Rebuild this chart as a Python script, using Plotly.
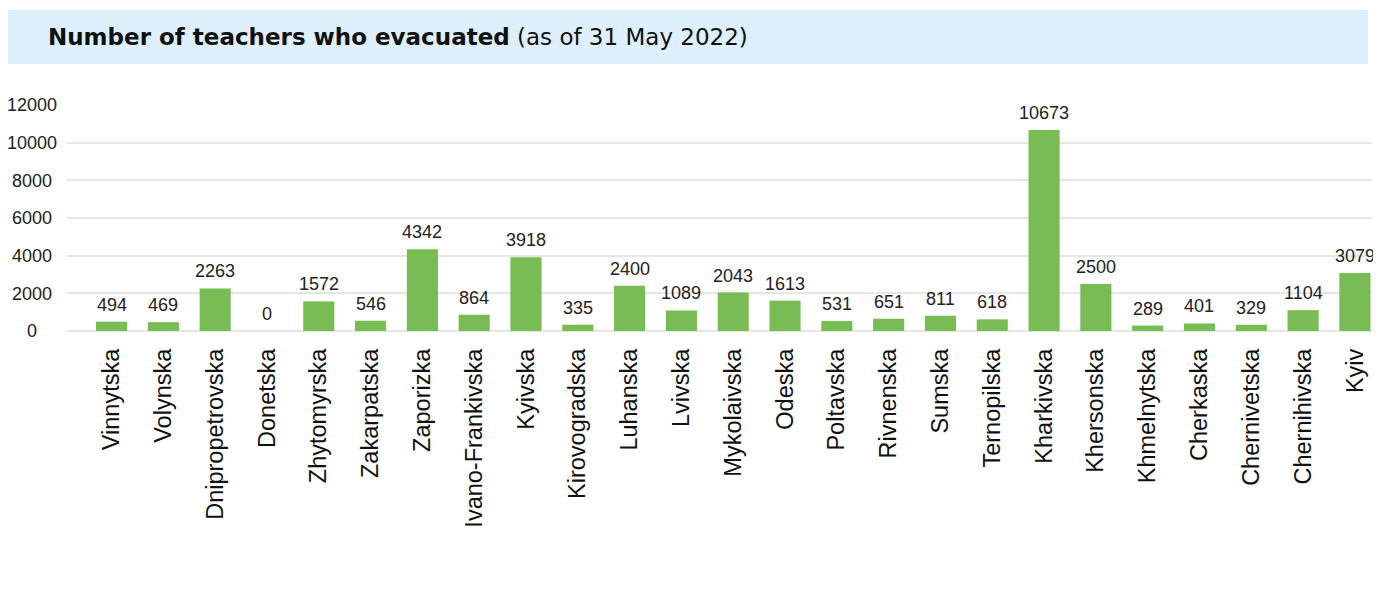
import plotly.graph_objects as go

regions = ["Vinnytska", "Volynska", "Dnipropetrovska", "Donetska", "Zhytomyrska",
           "Zakarpatska", "Zaporizka", "Ivano-Frankivska", "Kyivska", "Kirovogradska",
           "Luhanska", "Lvivska", "Mykolaivska", "Odeska", "Poltavska", "Rivnenska",
           "Sumska", "Ternopilska", "Kharkivska", "Khersonska", "Khmelnytska",
           "Cherkaska", "Chernivetska", "Chernihivska", "Kyiv"]
teachers = [494, 469, 2263, 0, 1572, 546, 4342, 864, 3918, 335, 2400, 1089, 2043,
            1613, 531, 651, 811, 618, 10673, 2500, 289, 401, 329, 1104, 3079]
y_ticks = [0, 2000, 4000, 6000, 8000, 10000, 12000]

FONT = "Liberation Sans, Arial, sans-serif"
GREEN = "#78BC54"

# the page body has an 8px margin, so the figure is sized to fit the window
OFF = 8
W, H = 1381 - OFF, 589 - OFF
ML, MR, MT, MB = 67 - OFF, 9, 105 - OFF, 258
PW = W - ML - MR
PH = H - MT - MB
PLOT_LEFT_PAGE = ML + OFF
PLOT_BOTTOM_PAGE = H - MB + OFF


def px_to_paper_x(px):
    return (px - PLOT_LEFT_PAGE) / PW


def px_to_paper_y(py):
    return (PLOT_BOTTOM_PAGE - py) / PH


# centre tick labels by padding shorter ones with non-breaking spaces
max_len = max(len(str(t)) for t in y_ticks)
tick_text = [str(t) + "\u00a0" * (max_len - len(str(t))) for t in y_ticks]

fig = go.Figure(
    go.Bar(
        x=regions,
        y=teachers,
        marker=dict(color=GREEN, line=dict(width=0)),
        width=0.6,
        hoverinfo="x+y",
    )
)

for r, v in zip(regions, teachers):
    fig.add_annotation(
        x=r, y=v, text=str(v), showarrow=False, yanchor="bottom", yshift=5,
        font=dict(family=FONT, size=18, color="#222222"),
    )

# title band
fig.add_shape(
    type="rect", xref="paper", yref="paper",
    x0=px_to_paper_x(5), x1=px_to_paper_x(1368),
    y0=px_to_paper_y(64), y1=px_to_paper_y(10),
    fillcolor="#DDF0FC", line=dict(width=0), layer="below",
)
fig.add_annotation(
    xref="paper", yref="paper", x=px_to_paper_x(46), y=px_to_paper_y(37),
    xanchor="left", yanchor="middle", showarrow=False,
    text="<b>Number of teachers who evacuated</b> (as of 31 May 2022)",
    font=dict(family="DejaVu Sans, sans-serif", size=23, color="#111111"),
)

fig.update_layout(
    width=W, height=H,
    margin=dict(l=ML, r=MR, t=MT, b=MB, autoexpand=False),
    paper_bgcolor="white", plot_bgcolor="white",
    showlegend=False,
    font=dict(family=FONT),
)
fig.update_xaxes(
    type="category",
    range=[-0.86, 24.33],
    tickangle=-90,
    tickfont=dict(family=FONT, size=23.5, color="#111111"),
    showgrid=False, zeroline=False, showline=False,
    ticks="", ticklabelstandoff=12,
)
fig.update_yaxes(
    range=[0, 12000],
    tickvals=y_ticks, ticktext=tick_text,
    tickfont=dict(family=FONT, size=18, color="#222222"),
    showgrid=True, gridcolor="#E6E6E6", gridwidth=1.5,
    zeroline=True, zerolinecolor="#E6E6E6", zerolinewidth=1.5,
    showline=False, ticks="", ticklabelstandoff=9,
)

fig.write_html("out.html")
